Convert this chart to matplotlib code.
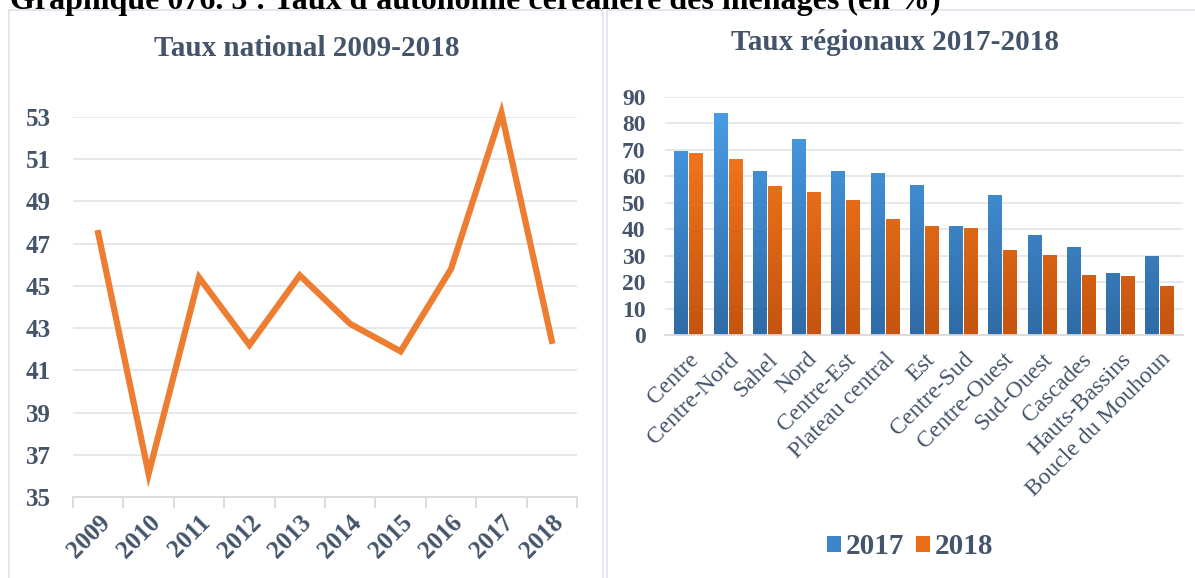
import numpy as np
import matplotlib
matplotlib.use("Agg")
import matplotlib.pyplot as plt
from matplotlib.colors import LinearSegmentedColormap
from matplotlib.patches import Rectangle, Patch

plt.rcParams["font.family"] = ["Liberation Serif", "DejaVu Serif"]

# national rate 2009-2018
years = ["2009", "2010", "2011", "2012", "2013", "2014", "2015", "2016", "2017", "2018"]
national = [47.5, 36.1, 45.4, 42.2, 45.5, 43.2, 41.9, 45.8, 53.2, 42.4]

# regional rates 2017 / 2018
regions = ["Centre", "Centre-Nord", "Sahel", "Nord", "Centre-Est", "Plateau central",
           "Est", "Centre-Sud", "Centre-Ouest", "Sud-Ouest", "Cascades",
           "Hauts-Bassins", "Boucle du Mouhoun"]
rate_2017 = [69.4, 83.8, 62.2, 74.0, 62.2, 61.1, 56.9, 41.3, 53.1, 37.9, 33.4, 23.5, 30.0]
rate_2018 = [69.0, 66.7, 56.5, 53.9, 51.2, 44.0, 41.3, 40.6, 32.2, 30.3, 22.8, 22.4, 18.6]

TXT = "#44546A"
GRID = "#D9D9D9"
ORANGE = "#ED7D31"

fig = plt.figure(figsize=(11.95, 5.78), dpi=100)

# panel frames
W, H = 1195, 578
for x0, x1 in [(9, 603), (607, 1200)]:
    fig.patches.append(Rectangle((x0 / W, -0.02), (x1 - x0) / W, 1 - 10 / H + 0.02,
                                 transform=fig.transFigure, fill=False,
                                 edgecolor="#DEE3EA", linewidth=1.2))

fig.text(10 / W, 1 - 9 / H, "Graphique 076. 3 : Taux d'autonomie céréalière des ménages (en %)",
         fontsize=23, fontweight="bold", color="black", va="baseline", ha="left")

# ---- left: line chart
ax1 = fig.add_axes([73 / W, 1 - 497 / H, 504 / W, 380 / H])
x = np.arange(len(years))
ax1.plot(x, national, color=ORANGE, linewidth=4.5, solid_joinstyle="miter", clip_on=False, zorder=3)
ax1.set_xlim(-0.5, len(years) - 0.5)
ax1.set_ylim(35, 53)
ax1.set_yticks(np.arange(35, 54, 2))
ax1.set_xticks(x)
ax1.set_xticklabels(years, rotation=45, ha="right", va="top", rotation_mode="anchor",
                    fontsize=18, fontweight="bold", color=TXT)
ax1.set_xticks(np.arange(-0.5, len(years)), minor=True)
ax1.tick_params(axis="x", which="major", length=0, pad=10)
ax1.tick_params(axis="x", which="minor", length=8, color=GRID, width=1.3)
ax1.tick_params(axis="y", length=0, pad=16, labelsize=18, labelcolor=TXT)
for lab in ax1.get_yticklabels():
    lab.set_fontweight("bold")
ax1.grid(axis="y", color="#E3E6EA", linewidth=1.3)
for s in ["top", "right", "left"]:
    ax1.spines[s].set_visible(False)
ax1.spines["bottom"].set_color(GRID)
ax1.spines["bottom"].set_linewidth(1.3)
ax1.set_axisbelow(True)
fig.text(307 / W, 1 - 48 / H, "Taux national 2009-2018", fontsize=21, fontweight="bold",
         color=TXT, ha="center", va="center")

# ---- right: grouped bars with gradient fill
ax2 = fig.add_axes([665 / W, 1 - 335 / H, 518 / W, 238 / H])
xr = np.arange(len(regions))
bw = 0.34
blue_cmap = LinearSegmentedColormap.from_list("b", ["#2F6BA6", "#4A9FEA"])
orange_cmap = LinearSegmentedColormap.from_list("o", ["#C4540F", "#FF7F1F"])
bars17 = ax2.bar(xr - bw / 2 - 0.02, rate_2017, bw, color="#3D86CC", zorder=2)
bars18 = ax2.bar(xr + bw / 2 + 0.02, rate_2018, bw, color="#EC6C16", zorder=2)
grad = np.linspace(0, 1, 256).reshape(-1, 1)
for bars, cmap in [(bars17, blue_cmap), (bars18, orange_cmap)]:
    for b in bars:
        bx, bwid = b.get_x(), b.get_width()
        im = ax2.imshow(grad, cmap=cmap, origin="lower", aspect="auto",
                        extent=(bx, bx + bwid, 0, 90), zorder=2.5)
        im.set_clip_path(b)
ax2.set_xlim(-0.6, len(regions) - 0.4)
ax2.set_ylim(0, 90)
ax2.set_yticks(np.arange(0, 91, 10))
ax2.set_xticks(xr)
ax2.set_xticklabels(regions, rotation=45, ha="right", va="top", rotation_mode="anchor",
                    fontsize=17, color=TXT)
ax2.tick_params(axis="x", length=0, pad=10)
ax2.tick_params(axis="y", length=0, pad=14, labelsize=17, labelcolor=TXT)
for lab in ax2.get_yticklabels():
    lab.set_fontweight("bold")
ax2.grid(axis="y", color="#E3E6EA", linewidth=1.3)
for s in ["top", "right", "left"]:
    ax2.spines[s].set_visible(False)
ax2.spines["bottom"].set_color(GRID)
ax2.spines["bottom"].set_linewidth(1.3)
ax2.set_axisbelow(True)
fig.text(895 / W, 1 - 43 / H, "Taux régionaux 2017-2018", fontsize=21, fontweight="bold",
         color=TXT, ha="center", va="center")

handles = [Patch(facecolor="#3D86CC", edgecolor="none"), Patch(facecolor="#EC6C16", edgecolor="none")]
leg = fig.legend(handles, ["2017", "2018"], loc="center", bbox_to_anchor=(910 / W, 1 - 547 / H),
                 ncol=2, frameon=False, fontsize=21, handlelength=0.5, handleheight=0.5,
                 handletextpad=0.15, columnspacing=0.4)
for t in leg.get_texts():
    t.set_color(TXT)
    t.set_fontweight("bold")

fig.savefig("out.png", dpi=100)
